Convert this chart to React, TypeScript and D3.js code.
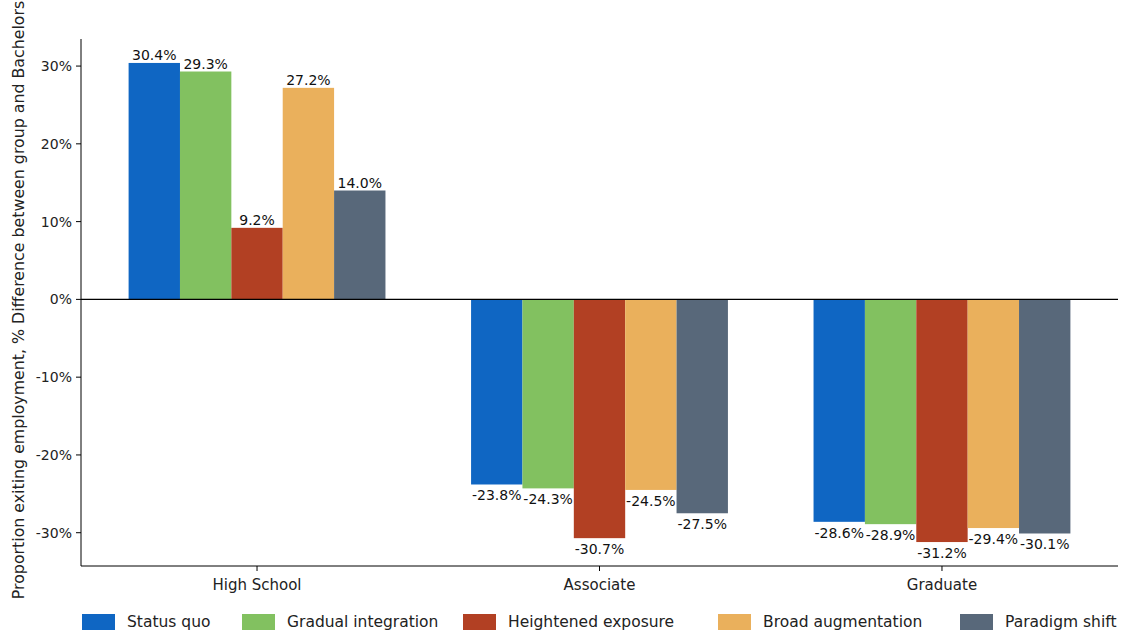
import React from "react";
import * as d3 from "d3";

const categories = ["High School", "Associate", "Graduate"];
const seriesNames = ["Status quo", "Gradual integration", "Heightened exposure", "Broad augmentation", "Paradigm shift"];
const statusQuo = [30.4, -23.8, -28.6];
const gradual = [29.3, -24.3, -28.9];
const heightened = [9.2, -30.7, -31.2];
const broad = [27.2, -24.5, -29.4];
const paradigm = [14.0, -27.5, -30.1];
const yTicks = [-30, -20, -10, 0, 10, 20, 30];
const colors = ["#0F66C3", "#82C160", "#B24023", "#EAB05C", "#58687A"];

const seriesValues = [statusQuo, gradual, heightened, broad, paradigm];

const W = 1125, H = 633;
const left = 81, right = 1118, top = 39, bottom = 566;
const FONT = "'DejaVu Sans', sans-serif";

export default function App() {
  const y = d3.scaleLinear().domain([-34.28, 33.48]).range([bottom, top]);
  const x = d3.scaleLinear().domain([-0.514, 2.514]).range([left, right]);
  const groupW = 0.75;
  const barW = groupW / seriesNames.length;
  const legendX = [82, 242, 463, 718, 960];

  return (
    <svg width={W} height={H} style={{ position: "absolute", left: 0, top: 0, background: "#fff" }} fontFamily={FONT}>
      {seriesValues.map((vals, si) =>
        vals.map((v, ci) => {
          const x0 = x(ci - groupW / 2 + si * barW);
          const x1 = x(ci - groupW / 2 + (si + 1) * barW);
          const y0 = y(Math.max(0, v));
          const y1 = y(Math.min(0, v));
          return (
            <g key={`${si}-${ci}`}>
              <rect x={x0} y={y0} width={x1 - x0} height={y1 - y0} fill={colors[si]} />
              <text
                x={(x0 + x1) / 2}
                y={v >= 0 ? y(v) - 3 : y(v) + 16}
                textAnchor="middle"
                fontSize={14}
                fill="#111"
              >
                {v.toFixed(1)}%
              </text>
            </g>
          );
        })
      )}
      <line x1={left} x2={right} y1={y(0)} y2={y(0)} stroke="#000" strokeWidth={1.3} />
      <line x1={left} x2={left} y1={top} y2={bottom} stroke="#000" strokeWidth={1} />
      <line x1={left} x2={right} y1={bottom} y2={bottom} stroke="#000" strokeWidth={1} />
      {yTicks.map((t) => (
        <g key={t}>
          <line x1={left - 5} x2={left} y1={y(t)} y2={y(t)} stroke="#000" />
          <text x={left - 9} y={y(t) + 5} textAnchor="end" fontSize={14} fill="#222">
            {t}%
          </text>
        </g>
      ))}
      {categories.map((c, i) => (
        <g key={c}>
          <line x1={x(i)} x2={x(i)} y1={bottom} y2={bottom + 5} stroke="#000" />
          <text x={x(i)} y={bottom + 24} textAnchor="middle" fontSize={15} fill="#222">
            {c}
          </text>
        </g>
      ))}
      <text
        transform={`translate(24,300) rotate(-90)`}
        textAnchor="middle"
        fontSize={15.8}
        fill="#222"
      >
        Proportion exiting employment, % Difference between group and Bachelors
      </text>
      {seriesNames.map((s, i) => (
        <g key={s}>
          <rect x={legendX[i]} y={614} width={33} height={16} fill={colors[i]} />
          <text x={legendX[i] + 45} y={627} fontSize={15.5} fill="#222">
            {s}
          </text>
        </g>
      ))}
    </svg>
  );
}
